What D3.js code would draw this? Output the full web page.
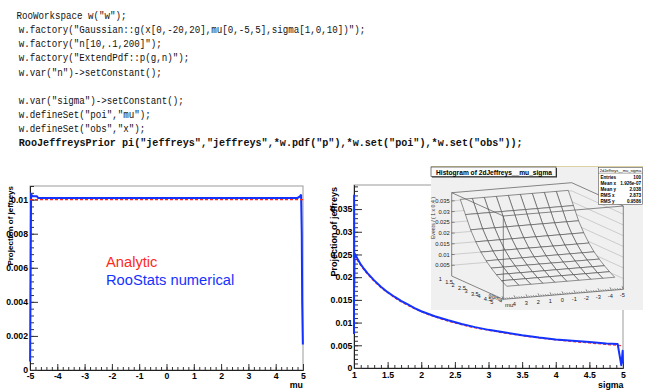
<!DOCTYPE html>
<html>
<head>
<meta charset="utf-8">
<script src="https://cdn.jsdelivr.net/npm/d3@7"></script>
<style>
body { margin: 0; background: #fff; }
svg { display: block; font-family: "Liberation Sans", Arial, sans-serif; }
</style>
</head>
<body>
<div id="container"></div>
<script>
// code snippet shown above the plots
var codeLines = [
  'RooWorkspace w("w");',
  'w.factory("Gaussian::g(x[0,-20,20],mu[0,-5,5],sigma[1,0,10])");',
  'w.factory("n[10,.1,200]");',
  'w.factory("ExtendPdf::p(g,n)");',
  'w.var("n")->setConstant();',
  '',
  'w.var("sigma")->setConstant();',
  'w.defineSet("poi","mu");',
  'w.defineSet("obs","x");',
  'RooJeffreysPrior pi("jeffreys","jeffreys",*w.pdf("p"),*w.set("poi"),*w.set("obs"));'
];

// left plot: projection on mu
var muNum    = [-4.995, -4.975, -4.96, -4.9, -4.75, -4.7, -4.5, 0, 4.5, 4.7, 4.8, 4.9, 4.93, 4.955, 4.97, 4.995];
var jefMuNum = [0.0005, 0.0060, 0.0103, 0.0102, 0.0102, 0.0101, 0.0101, 0.0101, 0.0101, 0.0101, 0.0101, 0.0102, 0.0103, 0.0080, 0.0040, 0.0015];
var muAna    = [-5, 5];
var jefMuAna = [0.0100, 0.0100];
var muTicks  = [-5, -4, -3, -2, -1, 0, 1, 2, 3, 4, 5];
var muYTicks = [0, 0.002, 0.004, 0.006, 0.008, 0.01];

// right plot: projection on sigma
var sigNum = [1.000, 1.002, 1.004, 1.007, 1.01, 1.05, 1.1, 1.15, 1.2, 1.3, 1.4, 1.5, 1.6, 1.7, 1.8, 1.9, 2.0,
              2.2, 2.4, 2.6, 2.8, 3.0, 3.25, 3.5, 3.75, 4.0, 4.25, 4.5, 4.75, 4.92, 4.975, 4.995, 5.0];
var jefSigNum = [0.0075, 0.0380, 0.0180, 0.0230, 0.0252, 0.0241, 0.0228, 0.0218, 0.0209, 0.0193, 0.0179, 0.0167,
                 0.0157, 0.0148, 0.0140, 0.0132, 0.0125, 0.0114, 0.0105, 0.0097, 0.0090, 0.0084, 0.0078, 0.0072,
                 0.0067, 0.0063, 0.0060, 0.0057, 0.0054, 0.0053, 0.0006, 0.0038, 0.0010];
var sigAna    = [1.0, 1.1, 1.2, 1.3, 1.4, 1.5, 1.6, 1.8, 2.0, 2.25, 2.5, 2.75, 3.0, 3.5, 4.0, 4.5, 5.0];
var jefSigAna = [0.0249, 0.0226, 0.0207, 0.0191, 0.0177, 0.0166, 0.0155, 0.0138, 0.0124, 0.0110, 0.0099,
                 0.0090, 0.0083, 0.0071, 0.0062, 0.0055, 0.0049];
var sigTicks  = [1, 1.5, 2, 2.5, 3, 3.5, 4, 4.5, 5];
var sigYTicks = [0, 0.005, 0.01, 0.015, 0.02, 0.025, 0.03, 0.035];

// inset: 2d histogram drawn as surface
var surfMu    = [-4.5, -3.5, -2.5, -1.5, -0.5, 0.5, 1.5, 2.5, 3.5, 4.5];
var surfSigma = [1.2, 1.6, 2.0, 2.4, 2.8, 3.2, 3.6, 4.0, 4.4, 4.8];
var surfZ     = [0.0360, 0.0300, 0.0240, 0.0195, 0.0158, 0.0128, 0.0105, 0.0085, 0.0068, 0.0053];
var zTicks3d  = [0.005, 0.01, 0.015, 0.02, 0.025, 0.03, 0.035];
var muTicks3d = [4, 3, 2, 1, 0, -1, -2, -3, -4, -5];
var sigTicks3d = [1, 1.5, 2, 2.5, 3, 3.5, 4, 4.5, 5];
var statsRows = [["Entries", "100"], ["Mean x", "1.926e-07"], ["Mean y", "2.038"], ["RMS x", "2.873"], ["RMS y", "0.9586"]];

var W = 664, H = 391;
var blue = "#1432ff", red = "#ff2a1a";

var svg = d3.select("#container").append("svg")
    .attr("width", W).attr("height", H);

// ---- code text
var codeData = codeLines.map(function(t, i) { return {t: t, i: i}; })
    .filter(function(d) { return d.t.length > 0; });
var lastLine = codeLines.length - 1;
svg.append("g").selectAll("text")
    .data(codeData)
    .enter().append("text")
    .attr("x", function(d) { return d.i == 0 ? 16.5 : 18.8; })
    .attr("y", function(d) { return 19.3 + d.i * 14.06; })
    .attr("font-family", "'Liberation Mono', 'DejaVu Sans Mono', monospace")
    .attr("font-size", 11)
    .attr("font-weight", function(d) { return d.i == lastLine ? "bold" : "normal"; })
    .attr("textLength", function(d) { return d.t.length * (d.i == lastLine ? 6.07 : 5.5); })
    .attr("lengthAdjust", "spacingAndGlyphs")
    .attr("fill", "#111")
    .text(function(d) { return d.t; });

// helper for ROOT style axes (ticks inward)
function drawAxes(g, x, y, xt, yt, xMinor, yMinor, opts) {
  var x0 = x.range()[0], x1 = x.range()[1], y0 = y.range()[0], y1 = y.range()[1];
  g.append("rect").attr("x", x0).attr("y", y1).attr("width", x1 - x0).attr("height", y0 - y1)
    .attr("fill", "none").attr("stroke", "#9a9a9a").attr("stroke-width", 1);

  var xa = g.append("g").attr("transform", "translate(0," + y0 + ")")
    .call(d3.axisBottom(x).tickValues(xMinor).tickSizeInner(-3).tickSizeOuter(0).tickFormat(""));
  xa.selectAll(".tick line").attr("stroke", "#333");
  var xb = g.append("g").attr("transform", "translate(0," + y0 + ")")
    .call(d3.axisBottom(x).tickValues(xt).tickSizeInner(-6).tickSizeOuter(0).tickPadding(opts.xPad)
      .tickFormat(function(d) { return String(d); }));
  xb.selectAll(".tick line").attr("stroke", "#333");
  xb.selectAll("text").attr("font-size", 8.7).attr("font-weight", "bold").attr("fill", "#000")
    .attr("font-family", "'Liberation Sans', Arial, sans-serif");

  var ya = g.append("g").attr("transform", "translate(" + x0 + ",0)")
    .call(d3.axisLeft(y).tickValues(yMinor).tickSizeInner(-4).tickSizeOuter(0).tickFormat(""));
  ya.selectAll(".tick line").attr("stroke", "#333");
  var yb = g.append("g").attr("transform", "translate(" + x0 + ",0)")
    .call(d3.axisLeft(y).tickValues(yt).tickSizeInner(-8).tickSizeOuter(0).tickPadding(opts.yPad)
      .tickFormat(function(d) { return String(d); }));
  yb.selectAll(".tick line").attr("stroke", "#333");
  yb.selectAll("text").attr("font-size", 8.7).attr("font-weight", "bold").attr("fill", "#000")
    .attr("font-family", "'Liberation Sans', Arial, sans-serif");
  g.selectAll(".domain").attr("stroke", "#222");
}

function minorTicks(a, b, step) {
  var out = [];
  for (var v = a; v <= b + step / 2; v += step) out.push(+v.toFixed(6));
  return out;
}

// ---- left plot
var xMu = d3.scaleLinear().domain([-5, 5]).range([30, 303]);
var yMu = d3.scaleLinear().domain([0, 0.0108]).range([370, 186]);
var gL = svg.append("g");
drawAxes(gL, xMu, yMu, muTicks, muYTicks, minorTicks(-5, 5, 0.2), minorTicks(0, 0.0108, 0.0004), {xPad: 3, yPad: 2});

var lineMu = d3.line().x(function(d) { return xMu(d[0]); }).y(function(d) { return yMu(d[1]); });
gL.append("path").attr("d", lineMu(d3.zip(muNum, jefMuNum)))
  .attr("fill", "none").attr("stroke", blue).attr("stroke-width", 2);
gL.append("path").attr("d", lineMu(d3.zip(muAna, jefMuAna)))
  .attr("fill", "none").attr("stroke", red).attr("stroke-width", 1.2).attr("stroke-dasharray", "3,2");

gL.append("text").attr("x", 106).attr("y", 267.3).attr("font-size", 14.7).attr("fill", red).text("Analytic");
gL.append("text").attr("x", 106).attr("y", 285).attr("font-size", 14.7).attr("fill", blue).text("RooStats numerical");
gL.append("text").attr("transform", "translate(12.5,186) rotate(-90)").attr("text-anchor", "end")
  .attr("font-size", 8).attr("font-weight", "bold").text("Projection of jeffreys");
gL.append("text").attr("x", 303).attr("y", 387.8).attr("text-anchor", "end")
  .attr("font-size", 8.8).attr("font-weight", "bold").text("mu");

// ---- right plot
var xSig = d3.scaleLinear().domain([1, 5]).range([354, 623]);
var ySig = d3.scaleLinear().domain([0, 0.0403]).range([368, 185]);
var gR = svg.append("g");
drawAxes(gR, xSig, ySig, sigTicks, sigYTicks, minorTicks(1, 5, 0.1), minorTicks(0, 0.0403, 0.001), {xPad: 4, yPad: 1.7});

var lineSig = d3.line().x(function(d) { return xSig(d[0]); }).y(function(d) { return ySig(d[1]); });
gR.append("path").attr("d", lineSig.curve(d3.curveMonotoneX)(d3.zip(sigAna, jefSigAna)))
  .attr("fill", "none").attr("stroke", red).attr("stroke-width", 1.2).attr("stroke-dasharray", "3,2");
gR.append("path").attr("d", lineSig.curve(d3.curveLinear)(d3.zip(sigNum, jefSigNum)))
  .attr("fill", "none").attr("stroke", blue).attr("stroke-width", 2).attr("stroke-linejoin", "round");

gR.append("text").attr("transform", "translate(336.5,187) rotate(-90)").attr("text-anchor", "end")
  .attr("font-size", 9).attr("font-weight", "bold").text("Projection of jeffreys");
gR.append("text").attr("x", 623.5).attr("y", 387.5).attr("text-anchor", "end")
  .attr("font-size", 8.8).attr("font-weight", "bold").text("sigma");

// ---- inset with the 2d surface
var gI = svg.append("g");
gI.append("rect").attr("x", 431).attr("y", 166).attr("width", 212).attr("height", 144).attr("fill", "#f0f0f0");
gI.append("line").attr("x1", 431).attr("x2", 643).attr("y1", 166.5).attr("y2", 166.5)
  .attr("stroke", "#dcd3a4").attr("stroke-width", 1);

var tMu = d3.scaleLinear().domain([5, -5]).range([0, 1]);
var tSig = d3.scaleLinear().domain([1, 5]).range([0, 1]);
var hZ = d3.scaleLinear().domain([0, 0.0388]).range([0, 83.3]);
var P0 = [451.7, 276], eMu = [120, -10], eSig = [51.6, 23.3];
function proj(m, s, z) {
  var a = tMu(m), b = tSig(s);
  return [P0[0] + a * eMu[0] + b * eSig[0], P0[1] + a * eMu[1] + b * eSig[1] - hZ(z)];
}
var zTop = 0.0388;
var poly = d3.line();

// back walls grid at z ticks
zTicks3d.forEach(function(z) {
  gI.append("path").attr("d", poly([proj(5, 1, z), proj(-5, 1, z), proj(-5, 5, z)]))
    .attr("fill", "none").attr("stroke", "#b4b4b4").attr("stroke-width", 0.6);
});
// back box edges
gI.append("path").attr("d", poly([proj(5, 1, 0), proj(5, 1, zTop), proj(-5, 1, zTop), proj(-5, 5, zTop), proj(-5, 5, 0)]))
  .attr("fill", "none").attr("stroke", "#555").attr("stroke-width", 0.7);
gI.append("path").attr("d", poly([proj(5, 1, 0), proj(5, 5, 0), proj(-5, 5, 0)]))
  .attr("fill", "none").attr("stroke", "#555").attr("stroke-width", 0.7);

// surface cells, back to front
for (var j = 0; j < surfSigma.length - 1; j++) {
  for (var i = 0; i < surfMu.length - 1; i++) {
    var cell = [proj(surfMu[i], surfSigma[j], surfZ[j]), proj(surfMu[i + 1], surfSigma[j], surfZ[j]),
                proj(surfMu[i + 1], surfSigma[j + 1], surfZ[j + 1]), proj(surfMu[i], surfSigma[j + 1], surfZ[j + 1])];
    gI.append("path").attr("d", poly(cell) + "Z")
      .attr("fill", "#f0f0f0").attr("stroke", "#3a3a3a").attr("stroke-width", 0.55);
  }
}

// front box edges
gI.append("path").attr("d", poly([proj(5, 1, zTop), proj(5, 5, zTop), proj(-5, 5, zTop)]))
  .attr("fill", "none").attr("stroke", "#555").attr("stroke-width", 0.7);
gI.append("path").attr("d", poly([proj(5, 5, zTop), proj(5, 5, 0)]))
  .attr("fill", "none").attr("stroke", "#555").attr("stroke-width", 0.7);

// z axis labels
gI.selectAll(".zl").data(zTicks3d).enter().append("text")
  .attr("x", function(d) { return proj(5, 1, d)[0] - 2; })
  .attr("y", function(d) { return proj(5, 1, d)[1]; })
  .attr("dy", "0.35em").attr("text-anchor", "end").attr("font-size", 5.8).attr("fill", "#222")
  .text(function(d) { return String(d); });
gI.selectAll(".zt").data(zTicks3d).enter().append("line")
  .attr("x1", function(d) { return proj(5, 1, d)[0]; }).attr("x2", function(d) { return proj(5, 1, d)[0] + 3; })
  .attr("y1", function(d) { return proj(5, 1, d)[1]; }).attr("y2", function(d) { return proj(5, 1, d)[1]; })
  .attr("stroke", "#333").attr("stroke-width", 0.5);
gI.append("text").attr("transform", "translate(434.5,197) rotate(-90)").attr("text-anchor", "end")
  .attr("font-size", 5.2).attr("fill", "#333").text("Events / ( 1 x 0.4 )");

// mu axis on the front edge
gI.selectAll(".mt").data(minorTicks(-5, 5, 0.2)).enter().append("line")
  .attr("x1", function(d) { return proj(d, 5, 0)[0]; }).attr("x2", function(d) { return proj(d, 4.9, 0)[0]; })
  .attr("y1", function(d) { return proj(d, 5, 0)[1]; })
  .attr("y2", function(d) { return proj(d, 5, 0)[1] - (Math.abs(d - Math.round(d)) < 1e-6 ? 3 : 1.5); })
  .attr("stroke", "#333").attr("stroke-width", 0.5);
gI.selectAll(".ml").data(muTicks3d).enter().append("text")
  .attr("x", function(d) { return proj(d, 5, 0)[0] - 1; })
  .attr("y", function(d) { return proj(d, 5, 0)[1] + 8; })
  .attr("text-anchor", "middle").attr("font-size", 5.6).attr("fill", "#222")
  .text(function(d) { return String(d); });
gI.append("text").attr("x", 505).attr("y", 307).attr("font-size", 6).attr("fill", "#222").text("mu");

// sigma axis on the left floor edge
gI.selectAll(".sl").data(sigTicks3d).enter().append("text")
  .attr("x", function(d) { return proj(5, d, 0)[0] - 13; })
  .attr("y", function(d) { return proj(5, d, 0)[1] + 5; })
  .attr("font-size", 5.6).attr("fill", "#222")
  .text(function(d) { return String(d); });
gI.append("text").attr("transform", "translate(488,296) rotate(25)")
  .attr("font-size", 5.6).attr("fill", "#222").text("sigma");

// title box
gI.append("rect").attr("x", 432).attr("y", 168).attr("width", 125).attr("height", 9.5).attr("fill", "#333");
gI.append("rect").attr("x", 431).attr("y", 167).attr("width", 125).attr("height", 9.5)
  .attr("fill", "#fafafa").attr("stroke", "#222").attr("stroke-width", 0.6);
gI.append("text").attr("x", 436).attr("y", 174.6).attr("font-size", 6.6).attr("font-weight", "bold")
  .attr("textLength", 116).attr("lengthAdjust", "spacingAndGlyphs").text("Histogram of 2dJeffreys__mu_sigma");

// stats box
gI.append("rect").attr("x", 598.5).attr("y", 167.5).attr("width", 44).attr("height", 37)
  .attr("fill", "#fff").attr("stroke", "#333").attr("stroke-width", 0.5);
gI.append("text").attr("x", 620.5).attr("y", 171.8).attr("text-anchor", "middle").attr("font-size", 4)
  .text("2dJeffreys__mu_sigma");
gI.append("line").attr("x1", 598.5).attr("x2", 642.5).attr("y1", 173.2).attr("y2", 173.2)
  .attr("stroke", "#333").attr("stroke-width", 0.4);
var sr = gI.selectAll(".sr").data(statsRows).enter().append("g");
sr.append("text").attr("x", 600.5).attr("y", function(d, i) { return 178.8 + i * 6.1; })
  .attr("font-size", 4.6).attr("font-weight", "bold").text(function(d) { return d[0]; });
sr.append("text").attr("x", 641).attr("y", function(d, i) { return 178.8 + i * 6.1; })
  .attr("text-anchor", "end").attr("font-size", 4.6).attr("font-weight", "bold").text(function(d) { return d[1]; });
</script>
</body>
</html>
